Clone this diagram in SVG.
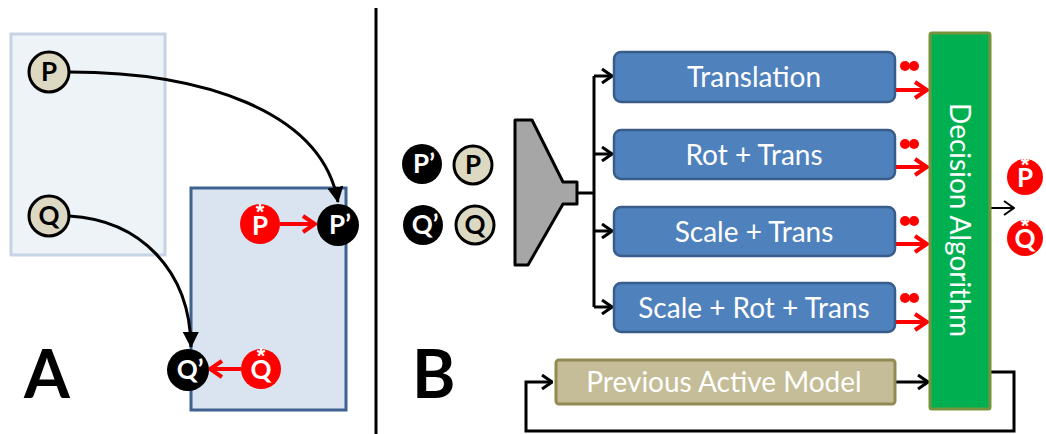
<svg xmlns="http://www.w3.org/2000/svg" width="1046" height="434" viewBox="0 0 1046 434">
<style>
.lbl{font-family:Lato,"Open Sans",sans-serif;fill:#fff}
.cl{font-family:Lato,"Open Sans",sans-serif;font-weight:bold;font-size:26px;text-anchor:middle}
.ast{font-family:"Liberation Sans",Arial,sans-serif;font-weight:bold;font-size:22px;text-anchor:middle;fill:#fff}
.big{font-family:Lato,"Liberation Sans",sans-serif;font-weight:bold;font-size:66px;fill:#000}
.tan{fill:#ddd8c2;stroke:#000;stroke-width:3}
.blk{fill:#000}
.red{fill:#f00}
.model{fill:#4f81bd;stroke:#385d8a;stroke-width:2.5}
.conn{fill:none;stroke:#000;stroke-width:3}
.rconn{fill:none;stroke:#f00;stroke-width:4}
</style>
<defs>
<marker id="open" markerUnits="userSpaceOnUse" viewBox="0 0 12 16" refX="11" refY="8" markerWidth="12" markerHeight="16" orient="auto">
<path d="M1,1 L11,8 L1,15" fill="none" stroke="#000" stroke-width="3"/>
</marker>
<marker id="thin" markerUnits="userSpaceOnUse" viewBox="0 0 12 16" refX="11" refY="8" markerWidth="12" markerHeight="16" orient="auto">
<path d="M1,1 L11,8 L1,15" fill="none" stroke="#000" stroke-width="2"/>
</marker>
<marker id="ropen" markerUnits="userSpaceOnUse" viewBox="0 0 16 20" refX="14" refY="10" markerWidth="16" markerHeight="20" orient="auto">
<path d="M2,2 L14,10 L2,18" fill="none" stroke="#f00" stroke-width="4"/>
</marker>
<marker id="fill" markerUnits="userSpaceOnUse" viewBox="0 0 16 16" refX="15" refY="8" markerWidth="16" markerHeight="16" orient="auto">
<path d="M0,0 L16,8 L0,16 Z" fill="#000"/>
</marker>
</defs>

<g id="panelA-boxes">
<rect x="11" y="34" width="154" height="221" fill="#eef3f8" stroke="#c5d3e3" stroke-width="3"/>
<rect x="191" y="188" width="155" height="222" fill="#dae3f0" stroke="#3f6290" stroke-width="3"/>
</g>
<line x1="376" y1="8" x2="376" y2="434" stroke="#000" stroke-width="3"/>

<g id="connectors">
<path class="conn" d="M69,72 C200,72 322,110 338,202" marker-end="url(#fill)"/>
<path class="conn" d="M69,216 C140,220 190,270 191,347" marker-end="url(#fill)"/>
<line class="rconn" x1="280" y1="224" x2="315" y2="224" marker-end="url(#ropen)"/>
<line class="rconn" x1="241" y1="369" x2="210" y2="369" marker-end="url(#ropen)"/>
<polyline class="conn" points="577,193 594,193"/>
<polyline class="conn" points="594,76 594,307"/>
<line class="conn" x1="594" y1="76" x2="612" y2="76" marker-end="url(#open)"/>
<line class="conn" x1="594" y1="154" x2="612" y2="154" marker-end="url(#open)"/>
<line class="conn" x1="594" y1="231" x2="612" y2="231" marker-end="url(#open)"/>
<line class="conn" x1="594" y1="307" x2="612" y2="307" marker-end="url(#open)"/>
<line class="rconn" x1="895" y1="90" x2="927" y2="90" marker-end="url(#ropen)"/>
<line class="rconn" x1="895" y1="167" x2="927" y2="167" marker-end="url(#ropen)"/>
<line class="rconn" x1="895" y1="244" x2="927" y2="244" marker-end="url(#ropen)"/>
<line class="rconn" x1="895" y1="322" x2="927" y2="322" marker-end="url(#ropen)"/>
<line class="conn" x1="895" y1="382" x2="928" y2="382" marker-end="url(#open)"/>
<line x1="990" y1="208" x2="1014" y2="208" stroke="#000" stroke-width="2" fill="none" marker-end="url(#thin)"/>
<path class="conn" d="M990,372 L1014,372 L1014,431 L526,431 L526,382 L552,382" marker-end="url(#open)"/>
</g>

<g id="nodeP">
<circle class="tan" cx="49" cy="72" r="20"/>
<text class="cl" x="49" y="81">P</text>
</g>
<g id="nodeQ">
<circle class="tan" cx="49" cy="216" r="20"/>
<text class="cl" x="49" y="225">Q</text>
</g>
<g id="nodePprime">
<circle class="blk" cx="338" cy="225" r="21"/>
<text class="cl" x="340" y="234" fill="#fff">P’</text>
</g>
<g id="nodePstar">
<circle class="red" cx="260" cy="224" r="20"/>
<text class="ast" x="260" y="219">*</text>
<text class="cl" x="260" y="235" fill="#fff">P</text>
</g>
<g id="nodeQprime">
<circle class="blk" cx="188" cy="370" r="21"/>
<text class="cl" x="190" y="379" fill="#fff">Q’</text>
</g>
<g id="nodeQstar">
<circle class="red" cx="261" cy="369" r="20"/>
<text class="ast" x="261" y="363">*</text>
<text class="cl" x="261" y="379" fill="#fff">Q</text>
</g>
<text class="big" x="24" y="398">A</text>

<g id="inputs">
<circle class="blk" cx="422" cy="164" r="20"/>
<text class="cl" x="424" y="173" fill="#fff">P’</text>
<circle class="tan" cx="473" cy="165" r="19"/>
<text class="cl" x="473" y="174">P</text>
<circle class="blk" cx="423" cy="225" r="20"/>
<text class="cl" x="425" y="234" fill="#fff">Q’</text>
<circle class="tan" cx="475" cy="225" r="19"/>
<text class="cl" x="475" y="234">Q</text>
</g>
<text class="big" x="412" y="398">B</text>

<g id="encoder">
<path d="M515,120 L532,120 L563,182 L577,182 L577,204 L563,204 L528,265 L515,265 Z" fill="#a6a6a6" stroke="#000" stroke-width="3" stroke-linejoin="round"/>
</g>

<g id="translation">
<rect class="model" x="614" y="52" width="281" height="50" rx="7"/>
<text class="lbl" x="754" y="87" font-size="28" text-anchor="middle">Translation</text>
</g>
<g id="rottrans">
<rect class="model" x="614" y="130" width="281" height="49" rx="7"/>
<text class="lbl" x="754" y="165" font-size="28" text-anchor="middle">Rot + Trans</text>
</g>
<g id="scaletrans">
<rect class="model" x="614" y="207" width="281" height="49" rx="7"/>
<text class="lbl" x="754" y="242" font-size="28" text-anchor="middle">Scale + Trans</text>
</g>
<g id="scalerottrans">
<rect class="model" x="614" y="283" width="281" height="49" rx="7"/>
<text class="lbl" x="754" y="318" font-size="28" text-anchor="middle">Scale + Rot + Trans</text>
</g>

<g id="dots">
<circle class="red" cx="905" cy="66" r="5"/><circle class="red" cx="914" cy="66" r="5"/>
<circle class="red" cx="905" cy="144" r="5"/><circle class="red" cx="914" cy="144" r="5"/>
<circle class="red" cx="905" cy="221" r="5"/><circle class="red" cx="914" cy="221" r="5"/>
<circle class="red" cx="905" cy="298" r="5"/><circle class="red" cx="914" cy="298" r="5"/>
</g>

<g id="decision">
<rect x="930" y="33" width="60" height="376" rx="2" fill="#00b050" stroke="#77933c" stroke-width="3"/>
<text class="lbl" font-size="28" text-anchor="middle" transform="translate(960,220) rotate(90)" y="10">Decision Algorithm</text>
</g>

<g id="outputs">
<circle class="red" cx="1025" cy="177" r="18"/>
<text class="ast" x="1025" y="172" font-size="20">*</text>
<text class="cl" x="1025" y="187" fill="#fff" font-size="23">P</text>
<circle class="red" cx="1025" cy="238" r="18"/>
<text class="ast" x="1025" y="233" font-size="20">*</text>
<text class="cl" x="1025" y="248" fill="#fff" font-size="23">Q</text>
</g>

<g id="previous">
<rect x="556" y="360" width="339" height="44" rx="3" fill="#c4bd97" stroke="#938953" stroke-width="3"/>
<text class="lbl" x="724" y="392" font-size="28" text-anchor="middle">Previous Active Model</text>
</g>
</svg>
